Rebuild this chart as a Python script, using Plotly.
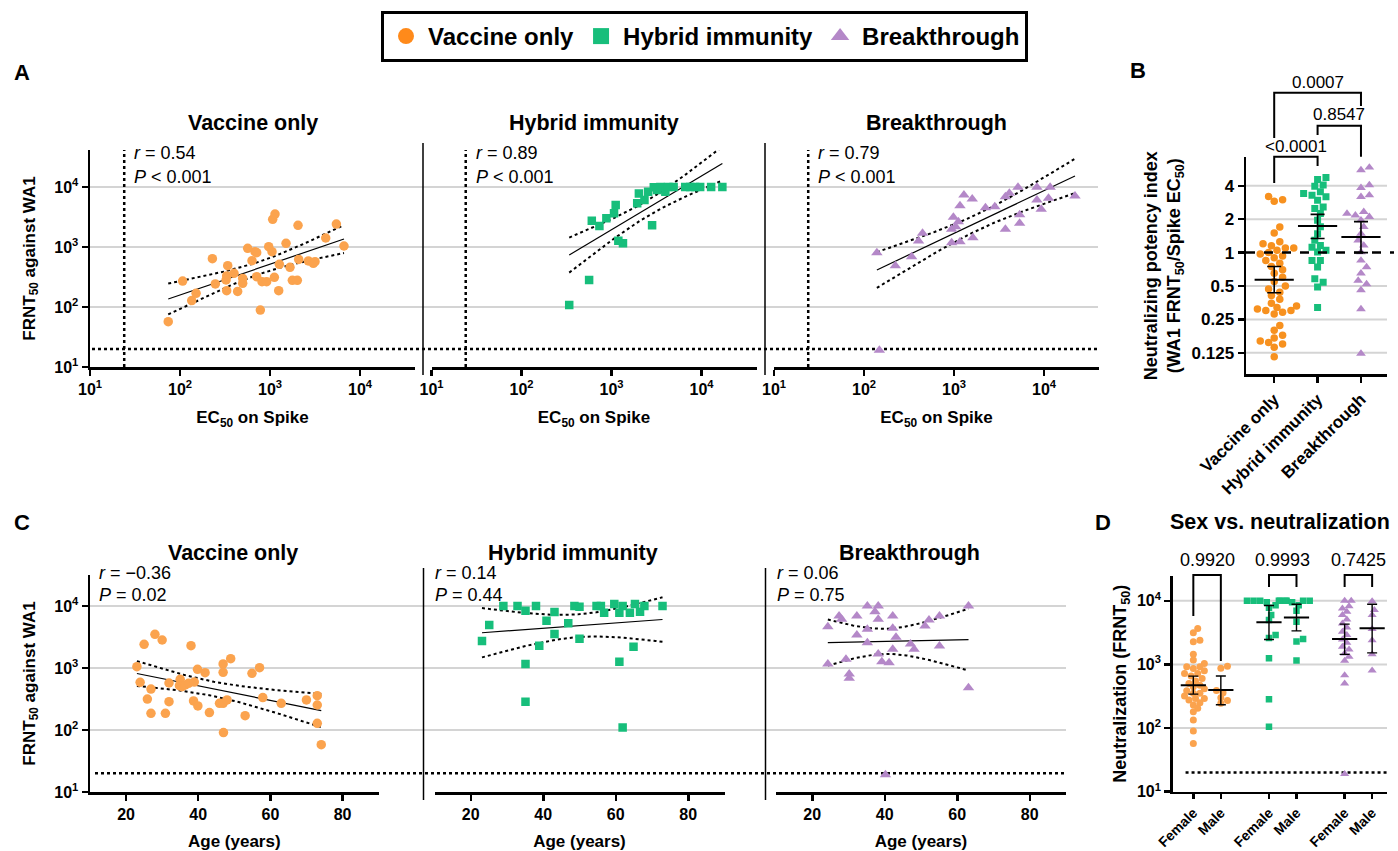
import numpy as np
import plotly.graph_objects as go

# ---------------- data ----------------
# Panel A: EC50 on Spike vs FRNT50 against WA1
A_vac_ec50 = [74, 107, 135, 151, 229, 247, 330, 339, 325, 330, 398, 437, 497, 497, 565, 631, 681, 711, 711, 781,
              815, 918, 967, 1052, 1071, 1137, 1118, 1249, 1270, 1507, 1668, 1771, 2012, 2048, 2083, 2669, 3030,
              3162, 4159, 5462, 6637]
A_vac_frnt = [57, 271, 128, 169, 640, 242, 187, 489, 282, 329, 364, 182, 300, 248, 950, 592, 836, 805, 320, 89,
              264, 264, 1013, 836, 2890, 3548, 312, 187, 514, 1151, 458, 278, 278, 2296, 622, 585, 534, 570, 1413,
              2415, 1039]
A_hyb_ec50 = [339, 564, 604, 734, 877, 1067, 1113, 1191, 1341, 1930, 2015, 2325, 2552, 2825, 2950, 3209, 3492,
              3965, 4246, 4900, 6590, 7480, 8505, 9660, 12790, 17050]
A_hyb_frnt = [108, 282, 2750, 2240, 3005, 3640, 5012, 1276, 1151, 5345, 7834, 6067, 8356, 2296, 9870, 8913, 10000,
              8356, 10000, 10000, 10000, 10000, 10000, 10000, 10000, 10000]
A_brk_ec50 = [139, 223, 338, 404, 447, 942, 942, 984, 1043, 1117, 1165, 1165, 1289, 1594, 1622, 2238, 2838, 3722,
              3722, 4120, 5140, 5360, 5360, 8340, 8340, 9310, 11220, 11700, 22080, 148]
A_brk_frnt = [805, 489, 690, 1259, 1690, 1181, 1968, 3120, 2183, 2643, 1227, 4890, 7357, 6310, 1431, 4525, 4700,
              1968, 6900, 7840, 9870, 2480, 3460, 9870, 6067, 4250, 6470, 9870, 7080, 19]
A_stats = [("0.54", "&lt; 0.001"), ("0.89", "&lt; 0.001"), ("0.79", "&lt; 0.001")]

# Panel B: neutralizing potency index
B_groups = ["Vaccine only", "Hybrid immunity", "Breakthrough"]
B_vac = [3.2, 3.0, 2.9, 1.7, 1.5, 1.25, 1.2, 1.15, 1.1, 1.1, 1.05, 1.0, 0.97, 0.93, 0.9, 0.85, 0.8, 0.75, 0.7,
         0.65, 0.6, 0.55, 0.5, 0.47, 0.44, 0.41, 0.38, 0.35, 0.33, 0.32, 0.31, 0.30, 0.30, 0.29, 0.28, 0.22, 0.20,
         0.18, 0.17, 0.16, 0.155, 0.15, 0.14, 0.115]
B_hyb = [4.76, 4.56, 4.06, 3.97, 3.53, 3.41, 3.29, 3.18, 2.97, 2.58, 2.50, 2.25, 1.96, 1.71, 1.48, 1.29, 1.16,
         1.12, 1.05, 1.01, 0.85, 0.85, 0.74, 0.58, 0.54, 0.49, 0.32]
B_brk = [5.86, 5.54, 4.06, 3.84, 3.29, 3.18, 2.33, 2.25, 2.17, 2.10, 1.96, 1.71, 1.48, 1.29, 1.16, 1.01, 0.85,
         0.74, 0.65, 0.56, 0.52, 0.46, 0.31, 0.123]
B_mean = [0.57, 1.74, 1.38]
B_lo = [0.435, 1.34, 1.0]
B_hi = [0.75, 2.21, 1.90]
B_p = ["&lt;0.0001", "0.8547", "0.0007"]

# Panel C: age vs FRNT50
C_vac_age = [23.0, 23.9, 25.0, 25.9, 26.9, 26.9, 28.0, 30.0, 30.9, 31.9, 31.9, 35.0, 34.8, 35.5, 36.4, 38.0, 37.3,
             38.9, 38.7, 39.8, 39.9, 41.9, 43.1, 45.9, 46.9, 46.9, 46.9, 47.0, 48.0, 49.0, 53.0, 54.9, 57.0, 57.9,
             63.0, 70.0, 73.0, 73.0, 73.0, 74.1]
C_vac_frnt = [1052, 587, 2410, 316, 458, 186, 3490, 2830, 186, 286, 573, 656, 519, 500, 532, 2290, 566, 594, 294,
              951, 244, 841, 191, 269, 851, 1161, 269, 91, 305, 1416, 170, 820, 1012, 333, 269, 305, 358, 253, 128,
              58]
C_hyb_age = [23.1, 25.1, 29.0, 32.9, 35.1, 35.1, 35.1, 38.0, 38.9, 40.9, 43.1, 43.1, 46.9, 48.6, 50.0, 50.0, 54.7,
             55.9, 56.8, 59.6, 61.0, 61.0, 61.9, 61.9, 63.9, 64.9, 65.3, 66.7, 67.9, 72.9]
C_hyb_frnt = [2720, 4940, 10000, 10000, 8410, 1161, 286, 10000, 2290, 5790, 8000, 3530, 5250, 10000, 9750, 2970,
              10000, 10000, 7800, 10800, 7800, 1265, 10000, 110, 7800, 2210, 10800, 8110, 10000, 10000]
C_brk_age = [24.3, 24.3, 27.4, 28.1, 29.3, 30.2, 30.2, 32.3, 32.3, 35.2, 35.2, 35.2, 37.3, 38.2, 38.2, 38.2, 39.2,
             40.2, 41.2, 42.2, 42.2, 42.2, 43.1, 47.1, 48.1, 51.1, 52.2, 55.1, 55.1, 63.1, 63.1]
C_brk_frnt = [4640, 1161, 6900, 6090, 1380, 800, 681, 6900, 3400, 10000, 4200, 2560, 8110, 10000, 6090, 1683, 1265,
              19, 1219, 6900, 4360, 2000, 3126, 2438, 2000, 4750, 5940, 6900, 2265, 10000, 482]
C_stats = [("\u22120.36", "0.02"), ("0.14", "0.44"), ("0.06", "0.75")]

# Panel D: sex vs neutralization
D_labels = ["Female", "Male", "Female", "Male", "Female", "Male"]
D_vac_f = [3670, 3140, 2410, 2270, 1452, 1170, 1037, 919, 919, 865, 796, 723, 723, 656, 603, 548, 503, 473, 446,
           415, 386, 351, 351, 318, 292, 292, 275, 250, 230, 204, 181, 134, 90, 57]
D_vac_m = [940, 870, 390, 360, 300, 270, 245]
D_hyb_f = [10000, 10000, 10000, 10000, 10000, 9500, 8500, 7800, 6000, 5000, 2900, 2600, 1250, 285, 105]
D_hyb_m = [10000, 10000, 10000, 10000, 9500, 8500, 7000, 4700, 2500, 2300, 1150]
D_brk_f = [10000, 10000, 8240, 7580, 6720, 5960, 5090, 4410, 3810, 3260, 2890, 2470, 2190, 1893, 1720, 1490, 1320,
           1143, 679, 503, 19]
D_brk_m = [9800, 7200, 6000, 3600, 2400, 1450, 800]
D_mean = [473, 395, 4610, 5470, 2520, 3720]
D_lo = [341, 232, 2470, 3370, 1437, 1520]
D_hi = [655, 660, 8430, 8850, 4300, 8850]
D_p = ["0.9920", "0.9993", "0.7425"]

FRNT_LOD = 20
EC50_LOD = 24

# ---------------- style ----------------
W, H = 1398, 851
FONT = "Liberation Sans"
ORANGE = "#FBA34E"
ORANGE_B = "#F7911F"
GREEN = "#17BE7B"
PURPLE = "#B488C8"
LEG_ORANGE = "#FF8A1A"


def X(p):
    return p / W


def Y(p):
    return 1 - p / H


def tq(df):
    z = 1.959964
    return (z + (z ** 3 + z) / (4 * df) + (5 * z ** 5 + 16 * z ** 3 + 3 * z) / (96 * df ** 2)
            + (3 * z ** 7 + 19 * z ** 5 + 17 * z ** 3 - 15 * z) / (384 * df ** 3))


def fit_band(x, y, n=80):
    x = np.asarray(x, float)
    y = np.asarray(y, float)
    N = len(x)
    b, a = np.polyfit(x, y, 1)
    res = y - (a + b * x)
    s = np.sqrt(np.sum(res ** 2) / (N - 2))
    xm = x.mean()
    sxx = np.sum((x - xm) ** 2)
    g = np.linspace(x.min(), x.max(), n)
    f = a + b * g
    se = s * np.sqrt(1.0 / N + (g - xm) ** 2 / sxx)
    t = tq(N - 2)
    return g, f, f - t * se, f + t * se


def swarm(vals, ppd, unit_px, d):
    ys = np.log10(np.asarray(vals, float)) * ppd
    order = np.argsort(ys)
    placed = []
    offs = np.zeros(len(ys))
    step = d * 0.4
    cands = [0.0]
    for k in range(1, 60):
        cands += [k * step, -k * step]
    for i in order:
        yy = ys[i]
        for c in cands:
            if all((c - px) ** 2 + (yy - py) ** 2 >= d * d for px, py in placed):
                break
        placed.append((c, yy))
        offs[i] = c / unit_px
    return offs


def bfont(size):
    return dict(family=FONT, size=size, color="black", weight="bold")


fig = go.Figure()

# ---------- Panel A ----------
A_sets = [(A_vac_ec50, A_vac_frnt, ORANGE, "circle", 9.5, "x"),
          (A_hyb_ec50, A_hyb_frnt, GREEN, "square", 8.5, "x2"),
          (A_brk_ec50, A_brk_frnt, PURPLE, "triangle-up", 10, "x3")]
for ec, fr, col, sym, sz, xa in A_sets:
    g, f, lo, hi = fit_band(np.log10(ec), np.log10(fr))
    for yy, dash, wd in [(lo, "dot", 2), (hi, "dot", 2), (f, "solid", 1.2)]:
        fig.add_trace(go.Scatter(x=10 ** g, y=10 ** yy, mode="lines", xaxis=xa, yaxis="y",
                                 line=dict(color="black", width=wd, dash=dash), showlegend=False,
                                 hoverinfo="skip"))
    fig.add_trace(go.Scatter(x=ec, y=fr, mode="markers", xaxis=xa, yaxis="y", showlegend=False,
                             marker=dict(symbol=sym, size=sz, color=col, line=dict(width=0))))

# ---------- Panel B ----------
B_sets = [(B_vac, ORANGE_B, "circle", 7.5), (B_hyb, GREEN, "square", 7), (B_brk, PURPLE, "triangle-up", 8.5)]
for i, (vals, col, sym, sz) in enumerate(B_sets):
    offs = swarm(vals, 111.0, 43.5, 7)
    fig.add_trace(go.Scatter(x=i + offs, y=vals, mode="markers", xaxis="x4", yaxis="y2", showlegend=False,
                             marker=dict(symbol=sym, size=sz, color=col, line=dict(width=0))))
fig.add_trace(go.Scatter(
    x=[0, 1, 2], y=B_mean, mode="markers", xaxis="x4", yaxis="y2", showlegend=False,
    marker=dict(symbol="line-ew", size=28, line=dict(color="black", width=2)),
    error_y=dict(type="data", symmetric=False,
                 array=[h - m for h, m in zip(B_hi, B_mean)],
                 arrayminus=[m - l for m, l in zip(B_mean, B_lo)],
                 color="black", thickness=1.6, width=7)))

# ---------- Panel C ----------
C_sets = [(C_vac_age, C_vac_frnt, ORANGE, "circle", 9.5, "x5"),
          (C_hyb_age, C_hyb_frnt, GREEN, "square", 8.5, "x6"),
          (C_brk_age, C_brk_frnt, PURPLE, "triangle-up", 10, "x7")]
for age, fr, col, sym, sz, xa in C_sets:
    g, f, lo, hi = fit_band(age, np.log10(fr))
    for yy, dash, wd in [(lo, "dot", 2), (hi, "dot", 2), (f, "solid", 1.2)]:
        fig.add_trace(go.Scatter(x=g, y=10 ** yy, mode="lines", xaxis=xa, yaxis="y3",
                                 line=dict(color="black", width=wd, dash=dash), showlegend=False,
                                 hoverinfo="skip"))
    fig.add_trace(go.Scatter(x=age, y=fr, mode="markers", xaxis=xa, yaxis="y3", showlegend=False,
                             marker=dict(symbol=sym, size=sz, color=col, line=dict(width=0))))

# ---------- Panel D ----------
D_pos = [0, 1, 2.75, 3.75, 5.5, 6.5]
D_sets = [(D_vac_f, ORANGE, "circle", 7), (D_vac_m, ORANGE, "circle", 7),
          (D_hyb_f, GREEN, "square", 6.5), (D_hyb_m, GREEN, "square", 6.5),
          (D_brk_f, PURPLE, "triangle-up", 8), (D_brk_m, PURPLE, "triangle-up", 8)]
for p, (vals, col, sym, sz) in zip(D_pos, D_sets):
    offs = swarm(vals, 63.7, 27.5, 5.5)
    fig.add_trace(go.Scatter(x=p + offs, y=vals, mode="markers", xaxis="x8", yaxis="y4", showlegend=False,
                             marker=dict(symbol=sym, size=sz, color=col, line=dict(width=0))))
fig.add_trace(go.Scatter(
    x=D_pos, y=D_mean, mode="markers", xaxis="x8", yaxis="y4", showlegend=False,
    marker=dict(symbol="line-ew", size=18, line=dict(color="black", width=2)),
    error_y=dict(type="data", symmetric=False,
                 array=[h - m for h, m in zip(D_hi, D_mean)],
                 arrayminus=[m - l for m, l in zip(D_mean, D_lo)],
                 color="black", thickness=1.4, width=5)))

# ---------- legend entries ----------
for name, col, sym in [("Vaccine only", LEG_ORANGE, "circle"), ("Hybrid immunity", GREEN, "square"),
                       ("Breakthrough", PURPLE, "triangle-up")]:
    fig.add_trace(go.Scatter(x=[None], y=[None], mode="markers", name=name, xaxis="x", yaxis="y",
                             marker=dict(symbol=sym, size=20, color=col)))

# ---------------- axes ----------------
base = dict(showline=True, linecolor="black", linewidth=2.5, ticks="outside", ticklen=6, tickwidth=2.5,
            tickcolor="black", showgrid=False, zeroline=False, tickfont=bfont(16), fixedrange=True,
            automargin=False)
pow_vals = [10, 100, 1000, 10000]
pow_text = ["10<sup>%d</sup>" % k for k in range(1, 5)]

lay = {}
ec_title = dict(text="EC<sub>50</sub> on Spike", font=bfont(17))
for key, (a, b) in zip(["xaxis", "xaxis2", "xaxis3"], [(90, 415), (431.5, 756.5), (774, 1099)]):
    lay[key] = dict(base, type="log", range=[1, 4.611], domain=[X(a), X(b)], anchor="y",
                    tickvals=pow_vals, ticktext=pow_text, title=ec_title)
lay["yaxis"] = dict(base, type="log", range=[1, 4.617], domain=[Y(367), Y(150)], anchor="x",
                    tickvals=pow_vals, ticktext=pow_text,
                    title=dict(text="FRNT<sub>50</sub> against WA1", font=bfont(17)))

lay["xaxis4"] = dict(base, range=[-0.65, 2.6], domain=[X(1246), X(1387)], anchor="y2", tickvals=[0, 1, 2],
                     ticktext=B_groups, tickangle=-45, tickfont=bfont(17))
b_vals = [0.125, 0.25, 0.5, 1, 2, 4]
lay["yaxis2"] = dict(base, type="log", range=[-1.097, 0.859], domain=[Y(374.3), Y(157.3)], anchor="x4",
                     tickvals=b_vals, ticktext=["%g" % v for v in b_vals], tickfont=bfont(17),
                     title=dict(text="Neutralizing potency index<br>(WA1 FRNT<sub>50</sub>/Spike EC<sub>50</sub>)",
                                font=bfont(18), standoff=6))

age_title = dict(text="Age (years)", font=bfont(17))
for key, (a, b) in zip(["xaxis5", "xaxis6", "xaxis7"], [(90, 378.6), (434.5, 724.5), (776, 1066)]):
    lay[key] = dict(base, range=[10, 90], domain=[X(a), X(b)], anchor="y3", tickvals=[20, 40, 60, 80],
                    ticktext=["%d" % v for v in [20, 40, 60, 80]], title=age_title)
lay["yaxis3"] = dict(base, type="log", range=[1, 4.5], domain=[Y(792), Y(575)], anchor="x5",
                     tickvals=pow_vals, ticktext=pow_text,
                     title=dict(text="FRNT<sub>50</sub> against WA1", font=bfont(17)))

lay["xaxis8"] = dict(base, range=[-0.75, 7.04], domain=[X(1172.7), X(1387)], anchor="y4", tickvals=D_pos,
                     ticktext=D_labels, tickangle=-45, tickfont=bfont(14), ticklen=5)
lay["yaxis4"] = dict(base, type="log", range=[1, 4.39], domain=[Y(791.7), Y(576)], anchor="x8",
                     tickvals=pow_vals, ticktext=pow_text,
                     title=dict(text="Neutralization (FRNT<sub>50</sub>)", font=bfont(18), standoff=6))

# ---------------- shapes ----------------
shapes = []
GRID = dict(color="#D4D4D4", width=2)
DOT = dict(color="black", width=2.5, dash="dot")
for v in [100, 1000, 10000]:
    shapes.append(dict(type="line", xref="paper", yref="y", x0=X(90), x1=X(1098), y0=v, y1=v, line=GRID,
                       layer="below"))
    shapes.append(dict(type="line", xref="paper", yref="y3", x0=X(90), x1=X(1066), y0=v, y1=v, line=GRID,
                       layer="below"))
    shapes.append(dict(type="line", xref="x8 domain", yref="y4", x0=0, x1=1, y0=v, y1=v, line=GRID,
                       layer="below"))
for v in [0.125, 0.25, 0.5, 2, 4]:
    shapes.append(dict(type="line", xref="x4 domain", yref="y2", x0=0, x1=1, y0=v, y1=v, line=GRID,
                       layer="below"))
shapes.append(dict(type="line", xref="paper", yref="y2", x0=X(1246), x1=X(1394), y0=1, y1=1,
                   line=dict(color="black", width=2.5, dash="dash")))
# limit-of-detection lines
shapes.append(dict(type="line", xref="paper", yref="y", x0=X(92), x1=X(1098), y0=FRNT_LOD, y1=FRNT_LOD,
                   line=DOT, layer="below"))
shapes.append(dict(type="line", xref="paper", yref="y3", x0=X(95), x1=X(1067), y0=FRNT_LOD, y1=FRNT_LOD,
                   line=DOT, layer="below"))
shapes.append(dict(type="line", xref="x8 domain", yref="y4", x0=0.06, x1=1.0, y0=FRNT_LOD, y1=FRNT_LOD,
                   line=DOT, layer="below"))
for xa in ["x", "x2", "x3"]:
    shapes.append(dict(type="line", xref=xa, yref="y domain", x0=EC50_LOD, x1=EC50_LOD, y0=0, y1=1,
                       line=DOT, layer="below"))
# thin separators between sub-panels
for xp in [423, 765]:
    shapes.append(dict(type="line", xref="paper", yref="paper", x0=X(xp), x1=X(xp), y0=Y(375), y1=Y(143),
                       line=dict(color="black", width=1.5)))
    shapes.append(dict(type="line", xref="paper", yref="paper", x0=X(xp + 0.5), x1=X(xp + 0.5), y0=Y(800),
                       y1=Y(568), line=dict(color="black", width=1.5)))


def bracket(xref, xa, xb, ya, ytop, yb):
    return dict(type="path", xref=xref, yref="paper",
                path="M %g,%g L %g,%g L %g,%g L %g,%g" % (xa, Y(ya), xa, Y(ytop), xb, Y(ytop), xb, Y(yb)),
                line=dict(color="black", width=2))


shapes.append(bracket("x4", 0, 1, 183, 156.7, 166))
shapes.append(bracket("x4", 1, 2, 135, 125.7, 156.7))
shapes.append(bracket("x4", 0, 2, 138, 92.7, 106))
shapes.append(bracket("x8", D_pos[0], D_pos[1], 616, 575, 661))
shapes.append(bracket("x8", D_pos[2], D_pos[3], 587, 575, 587))
shapes.append(bracket("x8", D_pos[4], D_pos[5], 587, 575, 587))

# ---------------- annotations ----------------
ann = []


def txt(text, x, y, size, xref="paper", xanchor="center", bold=False, yanchor="middle"):
    f = bfont(size) if bold else dict(family=FONT, size=size, color="black")
    ann.append(dict(text=text, x=x, y=y, xref=xref, yref="paper",
                    xanchor=xanchor, yanchor=yanchor, showarrow=False, font=f))


for t, xr in zip(B_groups, ["x domain", "x2 domain", "x3 domain"]):
    txt(t, 0.5, Y(123), 21.5, xref=xr, bold=True)
for t, xc in zip(B_groups, [233, 573, 909]):
    txt(t, X(xc), Y(553), 21.5, bold=True)
for (r, p), xl in zip(A_stats, [132, 474, 816]):
    txt("<i>r</i> = %s" % r, X(xl), Y(153), 18, xanchor="left")
    txt("<i>P</i> %s" % p, X(xl), Y(177), 18, xanchor="left")
for (r, p), xl in zip(C_stats, [97, 433, 775]):
    txt("<i>r</i> = %s" % r, X(xl), Y(573), 18, xanchor="left")
    txt("<i>P</i> = %s" % p, X(xl), Y(595), 18, xanchor="left")
txt(B_p[0], 0.5, Y(146.7), 17, xref="x4")
txt(B_p[1], 1.5, Y(115), 17, xref="x4")
txt(B_p[2], 1.0, Y(83), 17, xref="x4")
for p, (a, b) in zip(D_p, [(0, 1), (2, 3), (4, 5)]):
    txt(p, (D_pos[a] + D_pos[b]) / 2, Y(560), 18, xref="x8")
txt("Sex vs. neutralization", X(1280), Y(522), 21.5, bold=True)
txt("A", X(22), Y(72), 22, bold=True)
txt("B", X(1138), Y(70), 22, bold=True)
txt("C", X(22), Y(522), 22, bold=True)
txt("D", X(1103), Y(522), 22, bold=True)

fig.update_layout(
    width=W, height=H, autosize=False,
    margin=dict(l=0, r=0, t=0, b=0, autoexpand=False),
    paper_bgcolor="white", plot_bgcolor="rgba(0,0,0,0)",
    font=dict(family=FONT, color="black"),
    showlegend=True,
    legend=dict(orientation="h", x=X(381), xanchor="left", y=Y(11), yanchor="top",
                bordercolor="black", borderwidth=3, bgcolor="white", itemwidth=34,
                font=bfont(24), itemclick=False, itemdoubleclick=False),
    shapes=shapes, annotations=ann, **lay)

fig.write_html("out.html", config={"displayModeBar": False, "staticPlot": True},
               post_script="document.body.style.margin='0px';document.body.style.overflow='hidden';")
